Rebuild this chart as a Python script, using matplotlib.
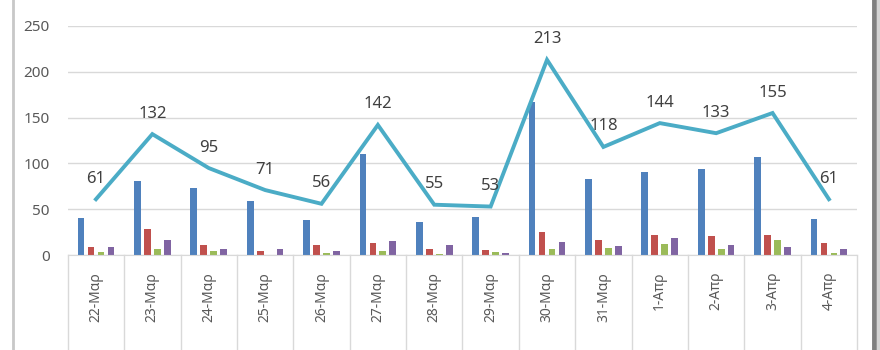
import matplotlib
matplotlib.use("Agg")
import matplotlib.pyplot as plt
from matplotlib.lines import Line2D
import numpy as np

plt.rcParams['font.family'] = ['Noto Sans', 'DejaVu Sans']

dates = ["22-Μαρ", "23-Μαρ", "24-Μαρ", "25-Μαρ", "26-Μαρ", "27-Μαρ", "28-Μαρ",
         "29-Μαρ", "30-Μαρ", "31-Μαρ", "1-Απρ", "2-Απρ", "3-Απρ", "4-Απρ"]
series_a = [40, 81, 73, 59, 38, 110, 36, 42, 167, 83, 91, 94, 107, 39]
series_b = [9, 28, 11, 5, 11, 13, 7, 6, 25, 17, 22, 21, 22, 13]
series_c = [3, 7, 4, 0, 2, 4, 1, 3, 7, 8, 12, 7, 17, 2]
series_d = [9, 16, 7, 7, 5, 15, 11, 2, 14, 10, 19, 11, 9, 7]
totals = [61, 132, 95, 71, 56, 142, 55, 53, 213, 118, 144, 133, 155, 61]
yticks = [0, 50, 100, 150, 200, 250]

colors = ["#4F81BD", "#C0504D", "#9BBB59", "#8064A2"]
line_color = "#4BACC6"

fig = plt.figure(figsize=(8.8, 3.5), dpi=100)
ax = fig.add_axes([0.077, 0.271, 0.897, 0.655])

x = np.arange(len(dates))
offsets = [-0.265, -0.088, 0.088, 0.265]
width = 0.12
for vals, off, col in zip([series_a, series_b, series_c, series_d], offsets, colors):
    ax.bar(x + off, vals, width=width, color=col, zorder=2)

ax.plot(x, totals, color=line_color, linewidth=2.8, zorder=3, solid_joinstyle='miter')
for xi, v in zip(x, totals):
    ax.annotate(str(v), (xi, v), xytext=(0, 9), textcoords='offset points',
                ha='center', va='bottom', fontsize=12, color="#404040", zorder=4)

ax.set_xlim(-0.5, len(dates) - 0.5)
ax.set_ylim(0, 250)
ax.set_yticks(yticks)
ax.yaxis.grid(True, color="#D9D9D9", linewidth=1)
ax.set_axisbelow(True)
for s in ["top", "right", "left"]:
    ax.spines[s].set_visible(False)
ax.spines["bottom"].set_color("#D9D9D9")
ax.tick_params(axis='y', length=0, pad=13, labelsize=11, labelcolor="#595959")
ax.set_xticks(x)
ax.set_xticklabels(dates, rotation=90, fontsize=10, color="#595959")
ax.tick_params(axis='x', length=0, pad=12)

# category separators running down through the label area
for b in np.arange(-0.5, len(dates), 1.0):
    ax.plot([b, b], [0, -0.42], transform=ax.get_xaxis_transform(),
            color="#D9D9D9", linewidth=1, clip_on=False)

# chart frame edges
fig.add_artist(Line2D([13 / 880, 13 / 880], [0, 1], color="#C8C8C8", linewidth=2))
fig.add_artist(Line2D([873.5 / 880, 873.5 / 880], [0, 1], color="#7F7F7F", linewidth=3.5))
fig.add_artist(Line2D([878 / 880, 878 / 880], [0, 1], color="#D4D4D4", linewidth=2.5))

fig.savefig("out.png", dpi=100)
